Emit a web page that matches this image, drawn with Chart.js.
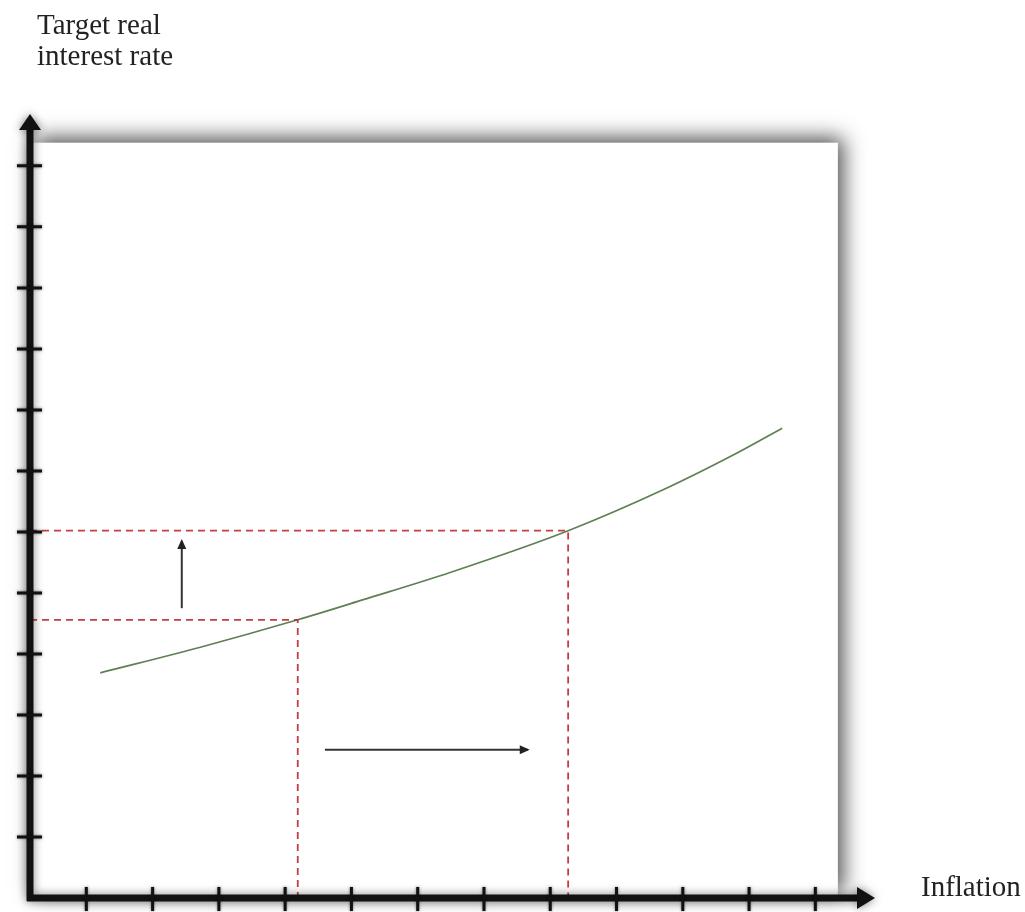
<!DOCTYPE html>
<html>
<head>
<meta charset="utf-8">
<script src="https://cdn.jsdelivr.net/npm/chart.js@4"></script>
<style>
  body { margin: 0; background: #fff; }
  #wrap { position: relative; width: 1025px; height: 912px; }
  .lbl { position: absolute; font-family: "Liberation Serif", "DejaVu Serif", serif; font-size: 29px; line-height: 31px; color: #222; white-space: nowrap; }
</style>
</head>
<body>
<div id="wrap">
  <canvas id="chart" width="1025" height="912"></canvas>
  <div class="lbl" style="left:37px; top:9px;">Target real<br>interest rate</div>
  <div class="lbl" style="left:921px; top:871px;">Inflation</div>
</div>
<script>
// ---- data ----
const xTicks = [1, 2, 3, 4, 5, 6, 7, 8, 9, 10, 11, 12];
const yTicks = [1, 2, 3, 4, 5, 6, 7, 8, 9, 10, 11, 12];

// monetary policy rule curve
const curveX = [1.21, 2.72, 4.19, 5.18, 6.50, 8.27, 9.76, 10.76, 11.50];
const curveY = [3.69, 4.11, 4.56, 4.89, 5.34, 6.02, 6.72, 7.26, 7.70];

// the two points (before / after)
const lowPoint = { x: 4.19, y: 4.56 };
const highPoint = { x: 8.27, y: 6.02 };

// the little arrows
const upArrowX = [2.44, 2.44];
const upArrowY = [4.75, 5.85];
const rightArrowX = [4.60, 7.66];
const rightArrowY = [2.43, 2.43];

const xMin = 0.15, xMax = 12.9;
const yMin = 0, yMax = 12.85;

// ---- helpers ----
function pts(xs, ys) {
    return xs.map((x, i) => ({ x: x, y: ys[i] }));
}
function guide(p) {
    return [{ x: xMin, y: p.y }, { x: p.x, y: p.y }, { x: p.x, y: yMin }];
}

const dashStyle = {
    borderColor: 'rgba(190, 40, 45, 0.9)',
    borderWidth: 1.8,
    borderDash: [7, 5],
    pointRadius: 0,
    fill: false
};

// box + shadow behind everything
const framePlugin = {
    id: 'frame',
    beforeDraw(chart) {
        const { ctx, scales } = chart;
        const x0 = scales.x.getPixelForValue(xMin);
        const x1 = scales.x.getPixelForValue(12.34);
        const y0 = scales.y.getPixelForValue(12.38);
        const y1 = scales.y.getPixelForValue(yMin);
        ctx.save();
        ctx.shadowColor = 'rgba(0,0,0,0.7)';
        ctx.shadowBlur = 20;
        ctx.shadowOffsetX = 5;
        ctx.shadowOffsetY = -5;
        ctx.fillStyle = '#fff';
        ctx.fillRect(x0, y0, x1 - x0, y1 - y0);
        ctx.restore();
    },
    afterDatasetsDraw(chart) {
        const { ctx, scales } = chart;
        const ox = scales.x.getPixelForValue(xMin);
        const oy = scales.y.getPixelForValue(yMin);
        const topY = scales.y.getPixelForValue(yMax);
        const endX = scales.x.getPixelForValue(xMax);

        ctx.save();
        ctx.shadowColor = 'rgba(0,0,0,0.5)';
        ctx.shadowBlur = 10;
        ctx.strokeStyle = '#111';
        ctx.fillStyle = '#111';

        // axes
        ctx.lineWidth = 7;
        ctx.beginPath();
        ctx.moveTo(ox, oy + 3);
        ctx.lineTo(ox, topY + 12);
        ctx.moveTo(ox - 3, oy);
        ctx.lineTo(endX - 14, oy);
        ctx.stroke();

        // arrow heads
        ctx.beginPath();
        ctx.moveTo(ox, topY);
        ctx.lineTo(ox - 11, topY + 16);
        ctx.lineTo(ox + 11, topY + 16);
        ctx.closePath();
        ctx.fill();
        ctx.beginPath();
        ctx.moveTo(endX, oy);
        ctx.lineTo(endX - 18, oy - 11);
        ctx.lineTo(endX - 18, oy + 11);
        ctx.closePath();
        ctx.fill();

        // ticks
        ctx.shadowBlur = 3;
        ctx.lineWidth = 3;
        ctx.beginPath();
        yTicks.forEach(v => {
            const py = scales.y.getPixelForValue(v);
            ctx.moveTo(ox - 13, py);
            ctx.lineTo(ox + 12, py);
        });
        xTicks.forEach(v => {
            const px = scales.x.getPixelForValue(v);
            ctx.moveTo(px, oy - 11);
            ctx.lineTo(px, oy + 13);
        });
        ctx.stroke();
        ctx.restore();

        // heads of the small arrows
        chart.data.datasets.forEach((ds, i) => {
            if (!ds.arrow) return;
            const meta = chart.getDatasetMeta(i).data;
            const a = meta[meta.length - 2], b = meta[meta.length - 1];
            const ang = Math.atan2(b.y - a.y, b.x - a.x);
            ctx.save();
            ctx.translate(b.x, b.y);
            ctx.rotate(ang);
            ctx.fillStyle = '#222';
            ctx.beginPath();
            ctx.moveTo(2, 0);
            ctx.lineTo(-8, -4.5);
            ctx.lineTo(-8, 4.5);
            ctx.closePath();
            ctx.fill();
            ctx.restore();
        });
    }
};

new Chart(document.getElementById('chart'), {
    type: 'line',
    data: {
        datasets: [
            Object.assign({ data: guide(lowPoint) }, dashStyle),
            Object.assign({ data: guide(highPoint) }, dashStyle),
            {
                data: pts(curveX, curveY),
                borderColor: '#5f7f55',
                borderWidth: 1.7,
                pointRadius: 0,
                cubicInterpolationMode: 'monotone',
                fill: false
            },
            {
                data: pts(upArrowX, upArrowY),
                borderColor: '#333',
                borderWidth: 2,
                pointRadius: 0,
                arrow: true
            },
            {
                data: pts(rightArrowX, rightArrowY),
                borderColor: '#333',
                borderWidth: 2,
                pointRadius: 0,
                arrow: true
            }
        ]
    },
    options: {
        responsive: false,
        animation: false,
        layout: { padding: { left: 30, right: 150, top: 114, bottom: 14 } },
        plugins: { legend: { display: false }, tooltip: { enabled: false } },
        scales: {
            x: { type: 'linear', display: false, min: xMin, max: xMax },
            y: { type: 'linear', display: false, min: yMin, max: yMax }
        }
    },
    plugins: [framePlugin]
});
</script>
</body>
</html>
